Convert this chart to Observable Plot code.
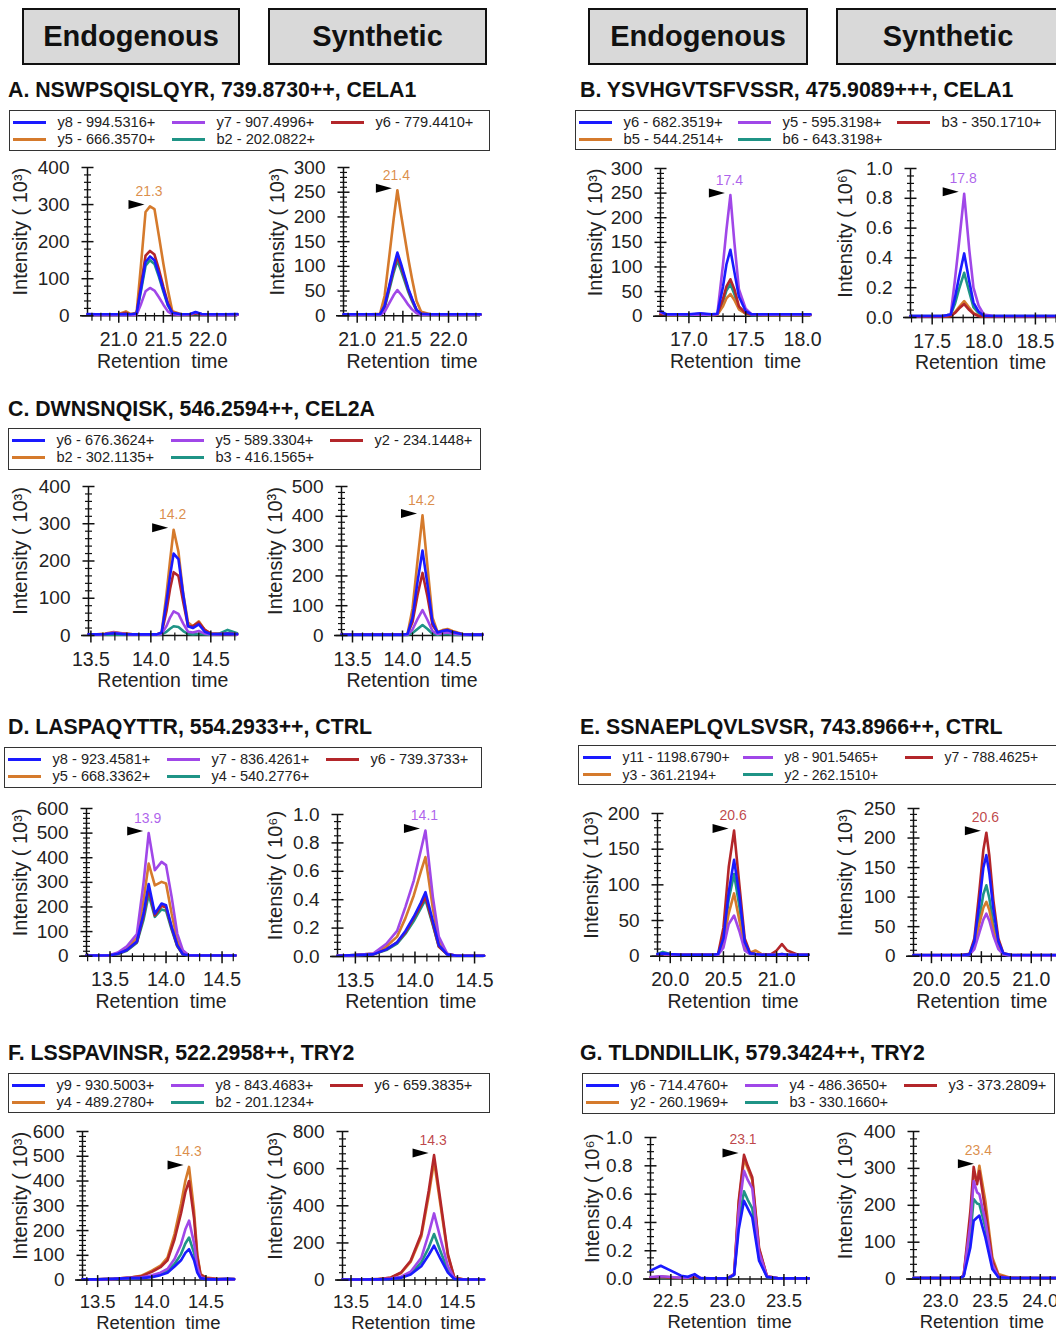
<!DOCTYPE html>
<html><head><meta charset="utf-8">
<script src="https://cdn.jsdelivr.net/npm/d3@7"></script>
<script src="https://cdn.jsdelivr.net/npm/@observablehq/plot@0.6"></script>
<style>
html,body{margin:0;padding:0;background:#fff;}
#fig{position:relative;width:1056px;height:1333px;overflow:hidden;font-family:Arial,"Liberation Sans",sans-serif;background:#fff;}
.hdr{position:absolute;box-sizing:border-box;border:2px solid #111;background:#d9d9d9;font-weight:bold;font-size:29px;display:flex;align-items:center;justify-content:center;color:#111;}
.ttl{position:absolute;font-weight:bold;font-size:21.3px;white-space:nowrap;color:#111;line-height:1;}
.leg{position:absolute;box-sizing:border-box;border:1.5px solid #333;background:#fff;}
.li{position:absolute;white-space:nowrap;color:#222;line-height:1;}
.sw{position:absolute;height:3px;}
.pl{position:absolute;}
.pl svg{max-width:none !important;}
</style></head><body><div id="fig"></div><script>
// ---------------- DATA ----------------
const headers = ["Endogenous", "Synthetic"];
const peptideTitles = [
  "A. NSWPSQISLQYR, 739.8730++, CELA1",
  "B. YSVHGVTSFVSSR, 475.9089+++, CELA1",
  "C. DWNSNQISK, 546.2594++, CEL2A",
  "D. LASPAQYTTR, 554.2933++, CTRL",
  "E. SSNAEPLQVLSVSR, 743.8966++, CTRL",
  "F. LSSPAVINSR, 522.2958++, TRY2",
  "G. TLDNDILLIK, 579.3424++, TRY2"
];
const ions_A = ["y8 - 994.5316+", "y7 - 907.4996+", "y6 - 779.4410+", "y5 - 666.3570+", "b2 - 202.0822+"];
const ions_B = ["y6 - 682.3519+", "y5 - 595.3198+", "b3 - 350.1710+", "b5 - 544.2514+", "b6 - 643.3198+"];
const ions_C = ["y6 - 676.3624+", "y5 - 589.3304+", "y2 - 234.1448+", "b2 - 302.1135+", "b3 - 416.1565+"];
const ions_D = ["y8 - 923.4581+", "y7 - 836.4261+", "y6 - 739.3733+", "y5 - 668.3362+", "y4 - 540.2776+"];
const ions_E = ["y11 - 1198.6790+", "y8 - 901.5465+", "y7 - 788.4625+", "y3 - 361.2194+", "y2 - 262.1510+"];
const ions_F = ["y9 - 930.5003+", "y8 - 843.4683+", "y6 - 659.3835+", "y4 - 489.2780+", "b2 - 201.1234+"];
const ions_G = ["y6 - 714.4760+", "y4 - 486.3650+", "y3 - 373.2809+", "y2 - 260.1969+", "b3 - 330.1660+"];

// intensity series in legend order: [blue, purple, red, orange, teal]
const rt_A_endo = [20.65,20.75,20.9,21.0,21.08,21.13,21.2,21.25,21.3,21.35,21.4,21.45,21.5,21.55,21.6,21.7,21.8,21.86,21.93,22.05,22.2,22.33];
const int_A_endo = [
  [5,4,4,4,5,4,6,75,145,160,150,112,70,30,8,4,5,10,5,4,4,5],
  [2,3,2,2,3,2,3,32,66,75,68,50,30,12,4,2,4,9,4,2,2,2],
  [3,3,3,3,8,3,6,85,162,175,165,125,78,35,8,3,3,6,3,3,3,3],
  [4,4,4,5,12,5,8,140,280,295,288,215,140,70,12,4,4,6,4,4,4,4],
  [3,3,3,3,4,3,5,68,135,150,140,105,65,28,7,3,3,5,3,3,3,3]];
const rt_A_syn = [20.85,21.0,21.15,21.25,21.3,21.35,21.4,21.44,21.48,21.52,21.56,21.6,21.65,21.7,21.8,22.0,22.2,22.35];
const int_A_syn = [
  [3,3,3,3,20,60,100,128,105,80,55,35,12,4,3,3,3,3],
  [2,2,2,2,8,25,42,52,43,33,22,13,5,2,2,2,2,2],
  [2,2,2,3,18,57,95,120,100,76,52,33,12,4,2,2,2,2],
  [3,3,3,4,40,118,197,254,205,160,115,75,30,8,3,3,3,3],
  [2,2,2,2,16,52,88,112,92,70,48,30,10,3,2,2,2,2]];
const rt_B_endo = [16.75,16.8,16.9,17.0,17.1,17.2,17.25,17.3,17.33,17.365,17.4,17.44,17.5,17.55,17.65,17.8,18.0,18.07];
const int_B_endo = [
  [10,4,4,4,6,4,5,60,105,135,90,40,10,4,4,4,4,4],
  [8,3,3,3,3,3,4,105,175,246,150,55,15,4,3,3,3,3],
  [4,3,3,3,5,3,4,35,60,75,55,20,6,3,3,3,3,3],
  [3,2,2,3,4,2,3,20,36,45,33,14,5,3,2,2,2,2],
  [3,2,2,2,3,2,3,30,52,65,45,16,5,2,2,2,2,2]];
const rt_B_syn = [17.29,17.4,17.5,17.6,17.68,17.72,17.76,17.81,17.86,17.9,17.95,18.0,18.1,18.3,18.5,18.84];
const int_B_syn = [
  [0.01,0.01,0.01,0.01,0.02,0.13,0.27,0.43,0.24,0.1,0.04,0.01,0.01,0.01,0.01,0.01],
  [0.01,0.01,0.01,0.01,0.02,0.25,0.5,0.83,0.45,0.2,0.08,0.02,0.01,0.01,0.01,0.01],
  [0.005,0.005,0.005,0.005,0.01,0.03,0.06,0.09,0.05,0.025,0.01,0.005,0.005,0.005,0.005,0.005],
  [0.005,0.005,0.005,0.005,0.01,0.035,0.07,0.11,0.065,0.03,0.012,0.005,0.005,0.005,0.005,0.005],
  [0.01,0.01,0.01,0.01,0.02,0.09,0.19,0.3,0.17,0.07,0.03,0.01,0.01,0.01,0.01,0.01]];
const rt_C_endo = [13.48,13.55,13.62,13.69,13.76,13.85,13.95,14.05,14.09,14.13,14.16,14.19,14.23,14.27,14.31,14.35,14.4,14.45,14.5,14.57,14.64,14.72];
const int_C_endo = [
  [3,3,4,6,4,3,3,3,8,90,160,220,205,110,25,20,30,10,4,4,5,4],
  [2,2,4,8,5,2,2,2,4,25,48,65,58,32,10,8,12,5,3,3,4,2],
  [3,3,4,7,5,3,3,3,6,65,125,170,160,90,25,25,35,15,5,4,5,3],
  [3,3,5,9,6,3,3,3,8,110,200,284,225,112,35,25,38,15,5,4,6,4],
  [2,2,2,3,2,2,2,2,3,10,18,25,23,12,4,3,4,3,2,5,15,6]];
const rt_C_syn = [13.39,13.5,13.7,13.9,14.0,14.05,14.1,14.15,14.2,14.25,14.3,14.35,14.4,14.45,14.5,14.6,14.7,14.8];
const int_C_syn = [
  [3,3,3,3,3,5,60,180,285,170,45,10,15,18,12,4,3,3],
  [2,2,2,2,2,3,20,55,85,52,15,5,8,10,6,3,2,2],
  [3,3,3,3,3,4,45,135,210,130,35,10,15,18,12,4,3,3],
  [3,3,3,3,3,5,90,250,403,230,60,12,18,22,15,5,3,3],
  [2,2,2,2,2,2,8,22,35,22,6,3,4,5,3,2,2,2]];
const rt_D_endo = [13.29,13.4,13.5,13.57,13.65,13.74,13.8,13.845,13.9,13.96,14.0,14.05,14.1,14.15,14.2,14.3,14.45,14.62];
const int_D_endo = [
  [3,3,4,10,25,60,175,293,173,214,207,119,45,8,4,3,3,3],
  [3,3,5,15,40,90,302,500,349,383,370,241,92,24,5,3,3,3],
  [3,3,4,10,25,58,165,275,165,205,198,115,42,8,4,3,3,3],
  [3,3,5,12,32,75,230,376,288,302,295,173,65,15,4,3,3,3],
  [3,3,4,9,22,55,150,250,160,190,185,108,40,7,3,3,3,3]];
const rt_D_syn = [13.35,13.5,13.65,13.76,13.85,13.92,13.99,14.05,14.088,14.15,14.2,14.27,14.35,14.45,14.58];
const int_D_syn = [
  [0.005,0.01,0.015,0.05,0.1,0.18,0.28,0.38,0.453,0.25,0.08,0.015,0.005,0.005,0.005],
  [0.005,0.01,0.02,0.09,0.18,0.35,0.535,0.75,0.887,0.42,0.14,0.02,0.005,0.005,0.005],
  [0.005,0.01,0.015,0.05,0.1,0.17,0.27,0.36,0.42,0.23,0.07,0.015,0.005,0.005,0.005],
  [0.005,0.01,0.02,0.07,0.14,0.27,0.43,0.6,0.7,0.34,0.11,0.02,0.005,0.005,0.005],
  [0.005,0.01,0.015,0.045,0.09,0.16,0.25,0.34,0.4,0.22,0.07,0.015,0.005,0.005,0.005]];
const rt_E_endo = [19.88,19.93,20.0,20.1,20.2,20.3,20.4,20.45,20.5,20.55,20.6,20.65,20.7,20.75,20.8,20.86,20.95,21.0,21.05,21.1,21.2,21.3];
const int_E_endo = [
  [3,4,3,2,2,2,2,3,25,90,135,85,20,4,3,2,2,2,3,2,2,2],
  [2,3,2,2,2,2,2,2,12,45,57,35,8,3,3,2,2,2,2,2,2,2],
  [2,3,2,2,2,2,2,3,40,125,176,100,25,5,3,2,3,8,17,8,2,2],
  [2,3,2,2,2,2,2,3,20,60,88,50,12,5,8,3,2,2,3,2,2,2],
  [3,6,3,2,2,2,2,3,22,80,115,70,15,4,3,2,2,2,2,2,2,2]];
const rt_E_syn = [19.82,20.0,20.2,20.3,20.38,20.43,20.48,20.52,20.55,20.58,20.62,20.67,20.72,20.8,21.0,21.2,21.39];
const int_E_syn = [
  [2,2,2,2,3,25,90,150,171,140,80,25,5,2,2,2,2],
  [1,1,1,1,2,12,40,62,72,60,35,12,3,1,1,1,1],
  [2,2,2,2,3,30,110,180,209,170,95,30,5,2,2,2,2],
  [1,1,1,2,4,18,55,82,92,78,45,15,4,2,1,1,1],
  [1,1,1,1,2,18,65,105,120,98,55,18,3,1,1,1,1]];
const rt_F_endo = [13.36,13.5,13.65,13.8,13.9,14.0,14.08,14.145,14.21,14.27,14.31,14.344,14.39,14.42,14.45,14.5,14.6,14.7,14.76];
const int_F_endo = [
  [3,3,5,8,8,12,20,30,55,80,110,125,80,30,8,4,3,5,4],
  [3,3,5,9,10,20,30,45,85,145,205,240,150,55,12,5,3,4,3],
  [3,3,5,10,15,33,52,80,165,270,355,400,250,95,22,8,4,4,4],
  [3,3,5,10,17,38,58,91,186,307,401,457,280,105,24,10,5,4,4],
  [3,3,5,8,10,16,25,38,65,105,148,172,110,40,10,5,3,4,3]];
const rt_F_syn = [13.42,13.6,13.75,13.875,13.97,14.06,14.16,14.23,14.28,14.34,14.41,14.47,14.55,14.65,14.75];
const int_F_syn = [
  [3,3,4,6,12,30,75,135,185,115,40,6,3,3,3],
  [3,3,4,8,18,45,120,250,359,225,75,10,3,3,3],
  [3,3,5,14,41,104,248,481,673,427,140,14,4,3,3],
  [3,3,5,13,38,98,235,455,640,405,130,13,4,3,3],
  [3,3,4,7,14,35,95,175,248,155,52,8,3,3,3]];
const rt_G_endo = [22.32,22.41,22.5,22.59,22.65,22.71,22.76,22.85,23.0,23.06,23.1,23.147,23.18,23.22,23.28,23.35,23.45,23.6,23.72];
const int_G_endo = [
  [0.06,0.094,0.06,0.024,0.016,0.035,0.007,0.005,0.005,0.03,0.35,0.553,0.5,0.435,0.13,0.015,0.005,0.005,0.005],
  [0.015,0.02,0.015,0.01,0.01,0.03,0.01,0.005,0.005,0.035,0.48,0.765,0.7,0.64,0.19,0.02,0.005,0.005,0.005],
  [0.01,0.015,0.01,0.008,0.008,0.015,0.008,0.005,0.005,0.035,0.55,0.877,0.8,0.72,0.22,0.02,0.005,0.005,0.005],
  [0.01,0.02,0.012,0.008,0.008,0.02,0.008,0.005,0.005,0.035,0.53,0.85,0.78,0.7,0.21,0.02,0.005,0.005,0.005],
  [0.008,0.01,0.008,0.006,0.006,0.01,0.006,0.004,0.004,0.03,0.4,0.62,0.56,0.5,0.15,0.015,0.004,0.004,0.004]];
const rt_G_syn = [22.73,22.9,23.1,23.2,23.233,23.3,23.333,23.367,23.39,23.45,23.52,23.58,23.7,23.9,24.1,24.3];
const int_G_syn = [
  [3,3,3,3,8,86,158,167,172,113,27,5,3,3,3,3],
  [3,3,3,3,10,150,266,235,230,158,40,6,3,3,3,3],
  [3,3,3,3,10,185,304,257,293,185,50,9,3,3,3,3],
  [3,3,3,3,10,158,284,266,307,212,59,14,4,3,3,3],
  [3,3,3,3,8,120,217,205,203,140,35,6,3,3,3,3]];

// tick labels
const xt_A = [21.0, 21.5, 22.0];
const xt_B_endo = [17.0, 17.5, 18.0];
const xt_B_syn = [17.5, 18.0, 18.5];
const xt_CDF = [13.5, 14.0, 14.5];
const xt_E = [20.0, 20.5, 21.0];
const xt_G_endo = [22.5, 23.0, 23.5];
const xt_G_syn = [23.0, 23.5, 24.0];
const yt_400 = [0, 100, 200, 300, 400];
const yt_300 = [0, 50, 100, 150, 200, 250, 300];
const yt_500 = [0, 100, 200, 300, 400, 500];
const yt_600 = [0, 100, 200, 300, 400, 500, 600];
const yt_800 = [0, 200, 400, 600, 800];
const yt_200 = [0, 50, 100, 150, 200];
const yt_250 = [0, 50, 100, 150, 200, 250];
const yt_1 = [0, 0.2, 0.4, 0.6, 0.8, 1.0];
const unit3 = "Intensity ( 10\u00B3)";
const unit6 = "Intensity ( 10\u2076)";

// ---------------- STYLE / LAYOUT ----------------
const ionColors = ["#1a1aff", "#a047e8", "#b3262a", "#d57a2c", "#1f9486"];
const FONT = "Arial, 'Liberation Sans', sans-serif";
const headerBoxes = [[22,8,218,57,0],[268,8,219,57,1],[588,8,220,57,0],[836,8,224,57,1]];
const titlePos = [[8,80],[580,80],[8,399],[8,717],[580,717],[8,1043],[580,1043]];
const slotsStd = [[4,49,0],[163,208,0],[322,367,0],[4,49,1],[163,208,1]];
const slotsE = [[5,45,0],[165,207,0],[327,367,0],[5,45,1],[165,207,1]];
const legendBoxes = [
  {ions: ions_A, x:9, y:110, w:481, h:41, fs:14.6, slots: slotsStd},
  {ions: ions_B, x:575, y:110, w:481, h:40, fs:14.8, slots: slotsStd},
  {ions: ions_C, x:8, y:428, w:473, h:42, fs:14.6, slots: slotsStd},
  {ions: ions_D, x:4, y:747, w:478, h:41, fs:14.6, slots: slotsStd},
  {ions: ions_E, x:578, y:745, w:482, h:40, fs:14, slots: slotsE},
  {ions: ions_F, x:8, y:1073, w:482, h:40, fs:14.6, slots: slotsStd},
  {ions: ions_G, x:582, y:1073, w:473, h:41, fs:14.6, slots: slotsStd}];
// bottom-axis text placement: [tick label dy, axis title dy, font size]
const axStd = [24, 45.5, 19.5];
const axBottom = [22, 43, 18.5];

const panels = [
  {rt: rt_A_endo, ints: int_A_endo, peakIon: 3, peakLabel: "21.3", xDomain: [20.65,22.33], xTicks: xt_A, yTicks: yt_400, yMinor: 20, unit: unit3, px: [87,237], py: [166.7,315], labDx: -67, ax: axStd},
  {rt: rt_A_syn, ints: int_A_syn, peakIon: 3, peakLabel: "21.4", xDomain: [20.85,22.35], xTicks: xt_A, yTicks: yt_300, yMinor: 10, unit: unit3, px: [343,480], py: [166.7,315], labDx: -66, ax: axStd},
  {rt: rt_B_endo, ints: int_B_endo, peakIon: 1, peakLabel: "17.4", xDomain: [16.75,18.07], xTicks: xt_B_endo, yTicks: yt_300, yMinor: 10, unit: unit3, px: [660,810], py: [168.3,316], labDx: -65, ax: axStd},
  {rt: rt_B_syn, ints: int_B_syn, peakIon: 1, peakLabel: "17.8", xDomain: [17.29,18.84], xTicks: xt_B_syn, yTicks: yt_1, yMinor: 0.05, unit: unit6, px: [910,1070], py: [168.3,317.3], labDx: -65, ax: axStd},
  {rt: rt_C_endo, ints: int_C_endo, peakIon: 3, peakLabel: "14.2", xDomain: [13.48,14.72], xTicks: xt_CDF, yTicks: yt_400, yMinor: 20, unit: unit3, px: [88,236.7], py: [486,635], labDx: -68, ax: axStd},
  {rt: rt_C_syn, ints: int_C_syn, peakIon: 3, peakLabel: "14.2", xDomain: [13.39,14.8], xTicks: xt_CDF, yTicks: yt_500, yMinor: 20, unit: unit3, px: [340.7,481.7], py: [486,635], labDx: -66, ax: axStd},
  {rt: rt_D_endo, ints: int_D_endo, peakIon: 1, peakLabel: "13.9", xDomain: [13.29,14.62], xTicks: xt_CDF, yTicks: yt_600, yMinor: 20, unit: unit3, px: [86,235], py: [808.3,956], labDx: -66, ax: axStd},
  {rt: rt_D_syn, ints: int_D_syn, peakIon: 1, peakLabel: "14.1", xDomain: [13.35,14.58], xTicks: xt_CDF, yTicks: yt_1, yMinor: 0.05, unit: unit6, px: [336.7,483.3], py: [814,956], labDx: -62, ax: axStd},
  {rt: rt_E_endo, ints: int_E_endo, peakIon: 2, peakLabel: "20.6", xDomain: [19.88,21.3], xTicks: xt_E, yTicks: yt_200, yMinor: 10, unit: unit3, px: [657.3,808.3], py: [813.3,956], labDx: -66, ax: axStd},
  {rt: rt_E_syn, ints: int_E_syn, peakIon: 2, peakLabel: "20.6", xDomain: [19.82,21.39], xTicks: xt_E, yTicks: yt_250, yMinor: 10, unit: unit3, px: [913.3,1070], py: [808.3,956], labDx: -68, ax: axStd},
  {rt: rt_F_endo, ints: int_F_endo, peakIon: 3, peakLabel: "14.3", xDomain: [13.36,14.76], xTicks: xt_CDF, yTicks: yt_600, yMinor: 20, unit: unit3, px: [81.7,233.3], py: [1130.7,1279.3], labDx: -62, ax: axBottom},
  {rt: rt_F_syn, ints: int_F_syn, peakIon: 2, peakLabel: "14.3", xDomain: [13.42,14.75], xTicks: xt_CDF, yTicks: yt_800, yMinor: 40, unit: unit3, px: [341.7,483.3], py: [1130.7,1279.3], labDx: -67, ax: axBottom},
  {rt: rt_G_endo, ints: int_G_endo, peakIon: 2, peakLabel: "23.1", xDomain: [22.32,23.72], xTicks: xt_G_endo, yTicks: yt_1, yMinor: 0.05, unit: unit6, px: [650,808.3], py: [1136.7,1278.3], labDx: -58, ax: axBottom},
  {rt: rt_G_syn, ints: int_G_syn, peakIon: 3, peakLabel: "23.4", xDomain: [22.73,24.3], xTicks: xt_G_syn, yTicks: yt_400, yMinor: 20, unit: unit3, px: [913.3,1070], py: [1130.7,1278.3], labDx: -68, ax: axBottom}
];

// ---------------- RENDER ----------------
const fig = document.getElementById("fig");
function el(tag, cls, css, text, parent) {
  const e = document.createElement(tag);
  if (cls) e.className = cls;
  Object.assign(e.style, css || {});
  if (text != null) e.textContent = text;
  (parent || fig).appendChild(e);
  return e;
}
headerBoxes.forEach(([x,y,w,h,i]) => el("div", "hdr", {left:x+"px", top:y+"px", width:w+"px", height:h+"px"}, headers[i]));
peptideTitles.forEach((t, i) => el("div", "ttl", {left:titlePos[i][0]+"px", top:titlePos[i][1]+"px"}, t));
legendBoxes.forEach(b => {
  const box = el("div", "leg", {left:b.x+"px", top:b.y+"px", width:b.w+"px", height:b.h+"px"});
  b.ions.forEach((name, k) => {
    const [sx, tx, row] = b.slots[k];
    const cy = row === 0 ? 11.2 : 28.5;
    el("div", "sw", {left:(sx-1.5)+"px", top:(cy-1.5)+"px", width:(tx-sx-12)+"px", background: ionColors[k]}, null, box);
    el("div", "li", {left:(tx-1.5)+"px", top:(cy-0.489*b.fs)+"px", fontSize: b.fs+"px"}, name, box);
  });
});

const hTick = len => ({draw(ctx){ ctx.moveTo(-len,0); ctx.lineTo(len,0); }});
const vTick = (up, down) => ({draw(ctx){ ctx.moveTo(0,-up); ctx.lineTo(0,down); }});
const triangle = {draw(ctx){ ctx.moveTo(-8,-4.5); ctx.lineTo(8,0); ctx.lineTo(-8,4.5); ctx.closePath(); }};
const mL = 95, mR = 12, mT = 40, mB = 75;

function makePanel(p) {
  const [xa, xb] = p.xDomain;
  const [pxa, pxb] = p.px;
  const [pyT, pyB] = p.py;
  const [tickDy, titleDy, axFs] = p.ax;
  const W = mL + (pxb - pxa) + mR;
  const H = mT + (pyB - pyT) + mB;
  const rows = [];
  p.ints.forEach((vals, k) => vals.forEach((v, i) => rows.push({ion: k, t: p.rt[i], v})));
  const pk = p.ints[p.peakIon];
  const iMax = d3.maxIndex(pk);
  const peak = {t: p.rt[iMax], v: pk[iMax], label: p.peakLabel};
  const yMax = p.yTicks[p.yTicks.length - 1];
  const fmtY = yMax <= 1 ? d3.format(".1f") : d3.format("d");
  const fmtX = d3.format(".1f");
  const xMinor = d3.range(Math.ceil(xa*10 - 1e-6), Math.floor(xb*10 + 1e-6) + 1).map(i => i/10)
    .filter(v => !p.xTicks.some(t => Math.abs(t - v) < 1e-6));
  const nMinor = Math.round(yMax / p.yMinor);
  const yMinor = d3.range(0, nMinor + 1).map(i => i * p.yMinor)
    .filter(v => !p.yTicks.some(t => Math.abs(t - v) < 1e-9));
  const pxPerUnit = (pxb - pxa) / (xb - xa);
  const overhang = 7 / pxPerUnit;
  // x-axis title centred under the visible part of the frame
  const visRight = Math.min(pxb, 1050);
  const xLabelAt = xa + ((pxa + visRight) / 2 - pxa) / pxPerUnit;
  const ink = "#111";
  const marks = [
    Plot.ruleY([0], {x1: xa - overhang, x2: xb, stroke: ink, strokeWidth: 1.5}),
    Plot.ruleX([xa], {y1: 0, y2: yMax, stroke: ink, strokeWidth: 1.5}),
    ...[4,3,2,1,0].map(k => Plot.line(rows.filter(r => r.ion === k), {x: "t", y: "v", stroke: ionColors[k], strokeWidth: 2.6, strokeLinejoin: "round", strokeLinecap: "round"})),
    Plot.dot(p.yTicks, {x: () => xa, y: d => d, symbol: hTick(6), stroke: ink, fill: "none", strokeWidth: 1.5, r: 3}),
    Plot.dot(yMinor, {x: () => xa, y: d => d, symbol: hTick(3.5), stroke: ink, fill: "none", strokeWidth: 1.2, r: 3}),
    Plot.dot(p.xTicks, {x: d => d, y: () => 0, symbol: vTick(5, 7), stroke: ink, fill: "none", strokeWidth: 1.5, r: 3}),
    Plot.dot(xMinor, {x: d => d, y: () => 0, symbol: vTick(3, 5), stroke: ink, fill: "none", strokeWidth: 1.2, r: 3}),
    Plot.text(p.yTicks, {x: () => xa, y: d => d, text: d => fmtY(d), textAnchor: "end", dx: -18, fontSize: 19, fill: "#222"}),
    Plot.text(p.xTicks, {x: d => d, y: () => 0, text: d => fmtX(d), dy: tickDy, fontSize: axFs, fill: "#222"}),
    Plot.text(["Retention\u00a0 time"], {x: () => xLabelAt, y: () => 0, text: d => d, dy: titleDy, fontSize: axFs, fill: "#222"}),
    Plot.text([p.unit], {x: () => xa, y: () => yMax / 2, text: d => d, rotate: -90, dx: p.labDx, dy: -10, fontSize: 20, fill: "#222"}),
    Plot.dot([peak], {x: "t", y: "v", symbol: triangle, fill: "#000", stroke: "none", dx: -13.5, dy: -2, r: 3}),
    Plot.text([peak], {x: "t", y: "v", text: "label", fill: ionColors[p.peakIon], fillOpacity: 0.85, dy: -15, dx: -1, fontSize: 14})
  ];
  const svg = Plot.plot({
    width: W, height: H,
    marginLeft: mL, marginRight: mR, marginTop: mT, marginBottom: mB,
    x: {domain: [xa, xb], axis: null},
    y: {domain: [0, yMax], axis: null},
    style: {fontFamily: FONT, background: "transparent", overflow: "visible", maxWidth: "none"},
    marks
  });
  svg.style.maxWidth = "none";
  svg.style.width = W + "px";
  svg.style.height = H + "px";
  const wrap = el("div", "pl", {left: (pxa - mL) + "px", top: (pyT - mT) + "px", width: W + "px", height: H + "px"});
  wrap.appendChild(svg);
}
panels.forEach(makePanel);
</script></body></html>
